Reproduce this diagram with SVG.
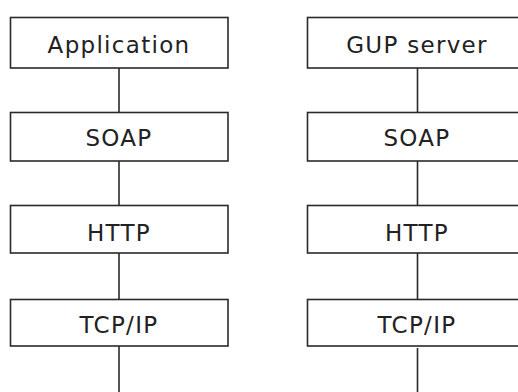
<svg xmlns="http://www.w3.org/2000/svg" width="518" height="392" viewBox="0 0 518 392">
<style>
.box{fill:#fff;stroke:#2a2a2a;stroke-width:1.6}
.lbl{font-family:"DejaVu Sans",Verdana,sans-serif;font-size:23px;letter-spacing:1.3px;fill:#222;text-anchor:middle}
.conn{stroke:#2a2a2a;stroke-width:1.6;fill:none}
</style>
<rect width="518" height="392" fill="#fff"/>
<g id="connectors">
<line class="conn" x1="119" y1="68" x2="119" y2="112"/>
<line class="conn" x1="119" y1="161" x2="119" y2="205"/>
<line class="conn" x1="119" y1="253" x2="119" y2="299"/>
<line class="conn" x1="119" y1="346" x2="119" y2="392"/>
<line class="conn" x1="417.5" y1="68" x2="417.5" y2="112"/>
<line class="conn" x1="417.5" y1="161" x2="417.5" y2="205"/>
<line class="conn" x1="417.5" y1="253" x2="417.5" y2="299"/>
<line class="conn" x1="417.5" y1="348" x2="417.5" y2="392"/>
</g>
<g id="app"><rect class="box" x="10.5" y="17.5" width="217.5" height="50.5"/><text class="lbl" x="119" y="53">Application</text></g>
<g id="soap-l"><rect class="box" x="10.5" y="112.5" width="217.5" height="48.5"/><text class="lbl" x="119" y="146">SOAP</text></g>
<g id="http-l"><rect class="box" x="10.5" y="205.5" width="217.5" height="47.5"/><text class="lbl" x="119" y="240.5">HTTP</text></g>
<g id="tcp-l"><rect class="box" x="10.5" y="299.5" width="217.5" height="46.5"/><text class="lbl" x="119" y="332.5">TCP/IP</text></g>
<g id="gup"><rect class="box" x="307.5" y="17.5" width="220" height="50.5"/><text class="lbl" x="417" y="53">GUP server</text></g>
<g id="soap-r"><rect class="box" x="307.5" y="112.5" width="220" height="48.5"/><text class="lbl" x="417" y="146">SOAP</text></g>
<g id="http-r"><rect class="box" x="307.5" y="205.5" width="220" height="47.5"/><text class="lbl" x="417" y="240.5">HTTP</text></g>
<g id="tcp-r"><rect class="box" x="307.5" y="299.5" width="220" height="46.5"/><text class="lbl" x="417" y="332.5">TCP/IP</text></g>
</svg>
